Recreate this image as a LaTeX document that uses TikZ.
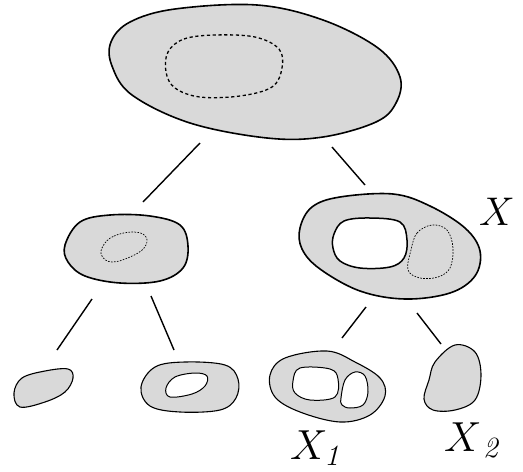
\RequirePackage{fix-cm}
\documentclass[tikz,border=0pt]{standalone}
\begin{document}
\begin{tikzpicture}[x=1pt,y=-1pt,
  blob/.style={draw=black,fill=blobgray,line width=1.6pt},
  smallblob/.style={draw=black,fill=blobgray,line width=1.1pt},
  hole/.style={draw=black,fill=white,line width=1.5pt},
  smallhole/.style={draw=black,fill=white,line width=1pt},
  bigdash/.style={draw=black,line width=1.3pt,dash pattern=on 3.2pt off 2.6pt},
  finedash/.style={draw=black,line width=0.7pt,dash pattern=on 1.6pt off 1.4pt},
  edge/.style={draw=black,line width=1.4pt},
  lbl/.style={inner sep=0pt,font=\fontsize{42}{46}\selectfont}]
\definecolor{blobgray}{HTML}{D9D9D9}
\useasboundingbox (0,0) rectangle (523,472);
% top blob
\path[blob] plot[smooth cycle,tension=0.6] coordinates {(111,42) (130,22) (175,9) (257,5) (323,20) (378,48) (400,77) (396,103) (376,122) (323,137) (267,138) (190,123) (132,95) (112,66)};
\path[bigdash] plot[smooth cycle,tension=0.6] coordinates {(168,52) (184,39) (215,35) (255,37) (279,49) (282,68) (272,87) (240,96) (200,97) (175,88) (166,72)};
% middle left
\path[blob] plot[smooth cycle,tension=0.6] coordinates {(65,245) (80,222) (110,215) (150,216) (180,225) (188,246) (183,268) (160,281) (120,283) (85,276) (68,262)};
\path[finedash] plot[smooth cycle,tension=0.7] coordinates {(103,246) (114,236) (134,232) (146,237) (144,248) (130,257) (112,262) (102,256)};
% middle right
\path[blob] plot[smooth cycle,tension=0.6] coordinates {(300,228) (312,207) (340,197) (393,194) (430,206) (465,228) (480,251) (475,276) (450,293) (405,299) (360,291) (320,269) (302,249)};
\path[hole] plot[smooth cycle,tension=0.6] coordinates {(334,234) (344,221) (370,218) (400,222) (407,240) (404,258) (390,267) (360,268) (340,261) (333,248)};
\path[finedash] plot[smooth cycle,tension=0.6] coordinates {(411,250) (417,233) (432,225) (447,230) (453,248) (450,268) (438,277) (420,278) (408,270)};
% bottom row
\path[smallblob] plot[smooth cycle,tension=0.6] coordinates {(14,393) (22,378) (45,371) (68,369) (73,378) (65,392) (45,402) (20,407)};
\path[smallblob] plot[smooth cycle,tension=0.6] coordinates {(141,387) (155,367) (185,362) (225,365) (238,379) (236,398) (220,410) (180,412) (150,406)};
\path[smallhole] plot[smooth cycle,tension=0.6] coordinates {(166,388) (175,377) (195,373) (207,376) (205,386) (192,394) (170,397)};
\path[smallblob] plot[smooth cycle,tension=0.6] coordinates {(270,375) (285,358) (327,351) (355,362) (380,378) (385,396) (370,415) (340,422) (300,412) (275,397)};
\path[smallhole] plot[smooth cycle,tension=0.6] coordinates {(293,381) (300,368) (330,369) (338,379) (335,397) (310,400) (295,393)};
\path[smallhole] plot[smooth cycle,tension=0.6] coordinates {(341,398) (345,380) (355,372) (365,376) (368,392) (363,405) (350,408) (342,405)};
\path[smallblob] plot[smooth cycle,tension=0.6] coordinates {(435,362) (455,345) (475,352) (481,375) (475,400) (455,410) (433,410) (424,399) (429,380)};
% connectors
\coordinate (a1) at (200,143); \coordinate (a2) at (143,202);
\coordinate (b1) at (332,147); \coordinate (b2) at (365,185);
\coordinate (c1) at (92,299);  \coordinate (c2) at (57,350);
\coordinate (d1) at (151,296); \coordinate (d2) at (174,350);
\coordinate (e1) at (366,307); \coordinate (e2) at (342,338);
\coordinate (f1) at (417,313); \coordinate (f2) at (441,344);
\draw[edge] (a1) -- (a2);
\draw[edge] (b1) -- (b2);
\draw[edge] (c1) -- (c2);
\draw[edge] (d1) -- (d2);
\draw[edge] (e1) -- (e2);
\draw[edge] (f1) -- (f2);
% labels
\node[lbl,anchor=base west,font=\fontsize{40}{44}\selectfont] (X) at (479,225) {$X$};
\node[lbl,anchor=base west] (X1) at (290,459) {$X_{\mathit{1}}$};
\node[lbl,anchor=base west] (X2) at (444,451) {$X_{\,\mathit{2}}$};
\end{tikzpicture}
\end{document}
